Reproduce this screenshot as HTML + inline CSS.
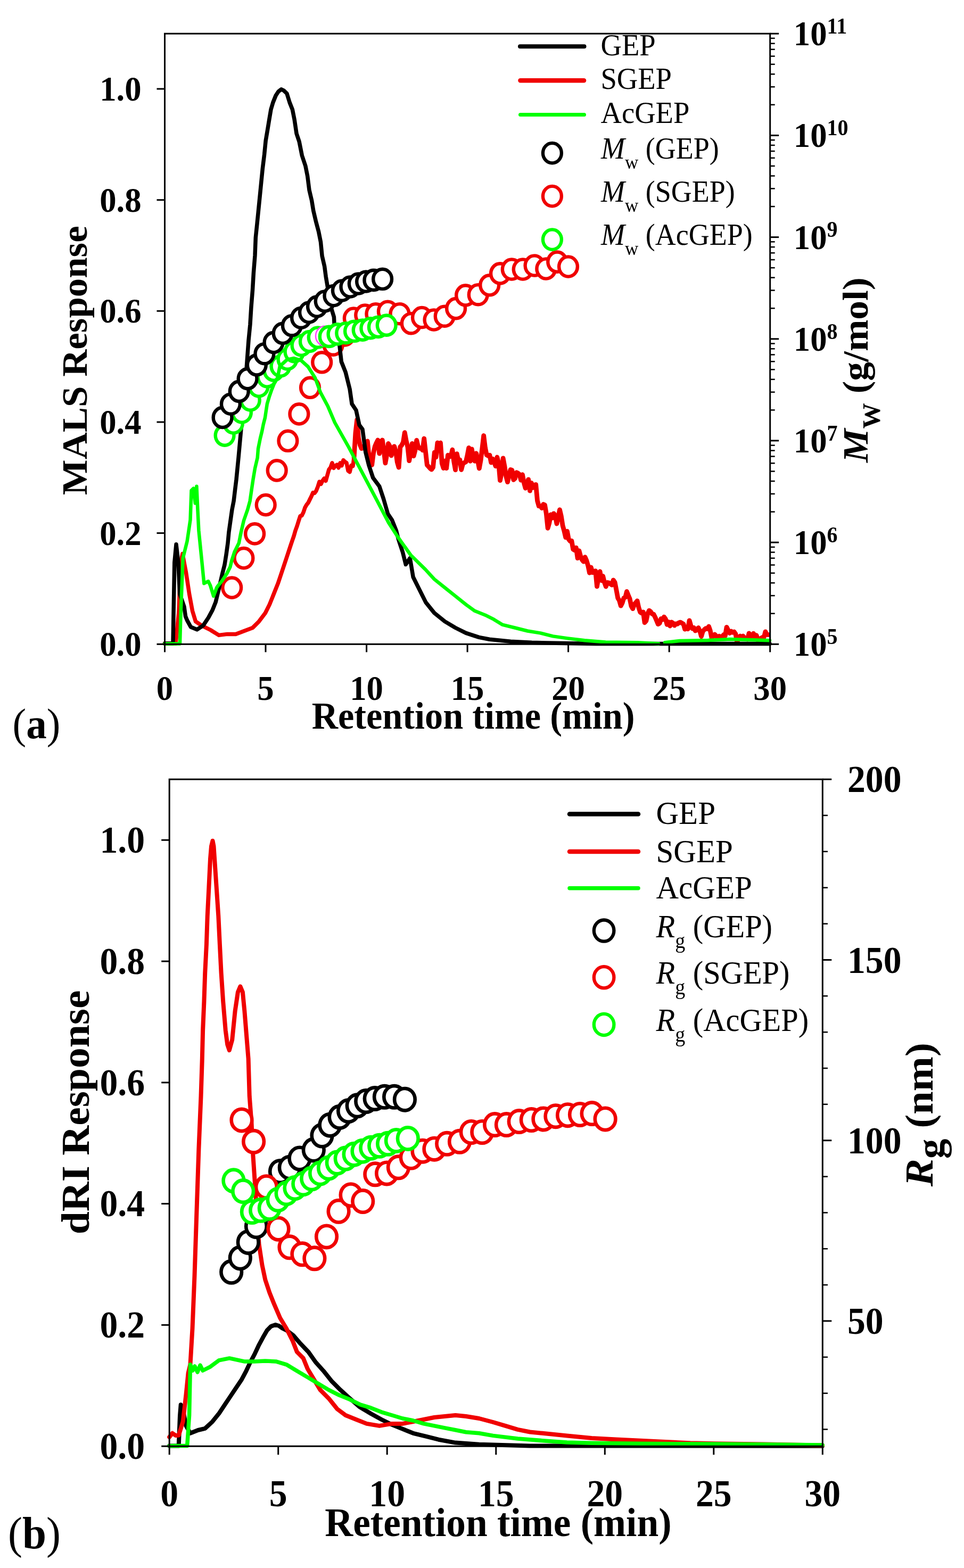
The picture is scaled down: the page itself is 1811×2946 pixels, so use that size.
<!DOCTYPE html>
<html><head><meta charset="utf-8"><title>GEP SEC-MALS</title>
<style>html,body{margin:0;padding:0;background:#fff;}svg{display:block;}</style>
</head><body>
<svg width="1811" height="2946" viewBox="0 0 1811 2946" font-family='"Liberation Serif", serif'>
<rect width="1811" height="2946" fill="#fff"/>
<polyline points="309.5,1209 330,1209 336,1150 339,1060 342.9,1040.6 349.6,1076.3 355.6,1116 361.5,1147.8 367.5,1167.6 379.4,1175.6 395.2,1183.5 411.1,1193.4 427,1191.4 442.9,1191.4 458.7,1185.5 474.6,1179.5 486.5,1167.6 498.4,1151.7 506.3,1135.9 514.3,1116 522.2,1096.2 530.2,1072.4 538.1,1048.6 546,1024.8 546,1024.8 549,1015.9 552,1007.3 555,996.7 558,988.5 561,978.9 564,969.6 567,968.6 570,962.6 573,953.6 576,948.4 579,944.7 582,938.5 585,932.5 588,925.6 591,926.4 594,922.2 597,914.7 600,905 603,909.4 606,903.2 609,899 612,903.5 615,892.7 618,882 621,878.3 624,869.8 627,879.4 630,875.1 633,873.1 636,878.9 639,869.9 642,874.7 645,864.6 648,867.5 651,869.6 654,884.5 657,886.8 660,874.6 663,875.6 665.1,859.6" fill="none" stroke="#f00000" stroke-width="7.5" stroke-linejoin="round" stroke-linecap="round"/>
<polyline points="665.1,859.6 667.9,813.5 670.7,788.7 673.5,823 676.3,835.9 679.1,842.6 681.9,839.2 684.7,842.7 687.5,837.5 690.3,828.8 693.1,857 695.9,867.6 698.7,873.5 701.5,851.5 704.3,839 707.1,832.2 709.9,826.8 712.7,852.1 715.5,831.6 718.3,826.8 721.1,846.7 723.9,870 726.7,854.2 729.5,833.4 732.3,838.4 735.1,856 737.9,847.8 740.7,838.6 743.5,847.9 746.3,868.3 749.1,878.1 751.9,839.4 754.7,836.4 757.5,830.6 760.3,812.7 763.1,828.1 765.9,839.8 768.7,865.7 771.5,850.5 774.3,833.3 777.1,856.9 779.9,846.1 782.7,827.2 785.5,838.9 788.3,842.3 791.1,841.8 793.9,845.8 796.7,824 799.5,848.8 802.3,873.5 805.1,876.7 807.9,879.8 810.7,882.2 813.5,878.3 816.3,849.8 819.1,858.8 821.9,832 824.7,835.6 827.5,832 830.3,870.4 833.1,879.5 835.9,865.9 838.7,879.8 841.5,855.1 844.3,858.2 847.1,856.9 849.9,845 852.7,867 855.5,882.8 858.3,852.7 861.1,865.4 863.9,863.9 866.7,882.5 869.5,871.5 872.3,869.3 875.1,867.9 877.9,856.1 880.7,841.3 883.5,866.3 886.3,843.9 889.1,859.3 891.9,866.3 894.7,851.7 897.5,865.2 900.3,880.1 903.1,864.8 905.9,842.3 908.7,818.5 911.5,841.2 914.3,854.8 917.1,856.3 919.9,855.1 922.7,869.2 925.5,862.2 928.3,868.3 931.1,875.8 933.9,859 936.7,870.2 939.5,902.6 942.3,888.6 945.1,860.8 947.9,875.7 950.7,894.6 953.5,905.7 956.3,893.4 959.1,882.4 961.9,883.4 964.7,901.4 967.5,899 970.3,887.7 973.1,889 975.9,891.4 978.7,902.1 981.5,891.7 984.3,906.9 987.1,917.2 989.9,910.9 992.7,900.8 995.5,922.1 998.3,907.3 1001.1,916.4 1003.9,911.2 1006.7,910.4 1009.5,940.7 1012.3,950.7 1015.1,950.9 1017.9,954.6 1020.7,947.5 1023.5,948.7 1026.3,965.1 1029.1,992.3 1031.9,982.6 1034.7,966.8 1037.5,973.3 1040.3,964.8 1043.1,969 1045.9,984 1048.7,970.6 1051.5,957.7 1054.3,969.7 1057.1,987.5 1059.9,997.5 1062.7,1009.7 1065.5,998.1 1068.3,1013.3 1071.1,1016.7 1073.9,1016.2 1076.7,1032.1 1079.5,1033.8 1082.3,1029.1 1085.1,1048.7 1087.9,1034.7 1090.7,1045.2 1093.5,1051.7 1096.3,1055.2 1099.1,1046.6 1101.9,1053.2 1104.7,1062.7 1107.5,1076.3 1110.3,1066 1113.1,1075.7 1115.9,1073.5 1118.7,1072.7 1121.5,1101.8 1124.3,1084.7 1127.1,1073.7 1129.9,1090.8 1132.7,1082.5 1135.5,1094.3 1138.3,1102 1141.1,1094.4 1143.9,1095.1 1146.7,1097.2 1149.5,1099.1 1152.3,1089.9 1155.1,1094.1 1157.9,1108.5 1160.7,1123.5 1163.5,1128.4 1166.3,1138.2 1169.1,1132.7 1171.9,1123.5 1174.7,1122.3 1177.5,1111.3 1180.3,1118.4 1183.1,1125 1185.9,1138.7 1188.7,1143.7 1191.5,1135.7 1194.3,1132.5 1197.1,1128.9 1199.9,1141.6 1202.7,1150.2 1205.5,1152 1208.3,1149.8 1211.1,1169.8 1213.9,1166.4 1216.7,1153 1219.5,1147.1 1222.3,1149.1 1225.1,1153.4 1227.9,1154.1 1230.7,1159.5 1233.5,1165.9 1236.3,1172.7 1239.1,1171 1241.9,1162.5 1244.7,1164 1247.5,1159.1 1250.3,1162.8 1253.1,1173.4 1255.9,1168.5 1258.7,1176.1 1261.5,1168.8 1264.3,1170.7 1267.1,1175.2 1269.9,1171.9 1272.7,1172.3 1275.5,1169.9 1278.3,1169.1 1281.1,1170.7 1283.9,1172.4 1286.7,1182.2 1289.5,1179.2 1292.3,1181.8 1295.1,1165.8 1297.9,1175.5 1300.7,1181 1303.5,1179.3 1306.3,1185.1 1309.1,1183.6 1311.9,1179.5 1314.7,1185.4 1317.5,1195.7 1320.3,1186.3 1323.1,1183 1325.9,1180.7 1328.7,1181.5 1331.5,1177 1334.3,1185 1337.1,1199 1339.9,1195 1342.7,1191.9 1345.5,1195.2 1348.3,1198.5 1351.1,1195.1 1353.9,1200.1 1356.7,1196 1359.5,1192.6 1362.3,1194.7 1365.1,1178.3 1367.9,1183.9 1370.7,1189.5 1373.5,1186 1376.3,1188.2 1379.1,1187 1381.9,1191 1384.7,1206.1 1387.5,1199.1 1390.3,1195 1393.1,1199.5 1395.9,1195 1398.7,1198.3 1401.5,1198.8 1404.3,1201 1407.1,1189.8 1409.9,1196.5 1412.7,1194.5 1415.5,1190.1 1418.3,1197.6 1421.1,1193.7 1423.9,1202.8 1426.7,1200.6 1429.5,1199.3 1432.3,1197.5 1435.1,1197.5 1437.9,1186.8 1440.7,1192.4 1443.5,1192.5" fill="none" stroke="#f00000" stroke-width="8.8" stroke-linejoin="round" stroke-linecap="round"/>
<ellipse cx="435.7" cy="1104.1" rx="17.4" ry="18.6" fill="#fff" stroke="#f00000" stroke-width="6.4"/>
<ellipse cx="457.9" cy="1048.6" rx="17.4" ry="18.6" fill="#fff" stroke="#f00000" stroke-width="6.4"/>
<ellipse cx="478.6" cy="1002.9" rx="17.4" ry="18.6" fill="#fff" stroke="#f00000" stroke-width="6.4"/>
<ellipse cx="499.2" cy="948.6" rx="17.4" ry="18.6" fill="#fff" stroke="#f00000" stroke-width="6.4"/>
<ellipse cx="520.2" cy="883.9" rx="17.4" ry="18.6" fill="#fff" stroke="#f00000" stroke-width="6.4"/>
<ellipse cx="540.9" cy="828.3" rx="17.4" ry="18.6" fill="#fff" stroke="#f00000" stroke-width="6.4"/>
<ellipse cx="561.9" cy="777.9" rx="17.4" ry="18.6" fill="#fff" stroke="#f00000" stroke-width="6.4"/>
<ellipse cx="582.5" cy="728.3" rx="17.4" ry="18.6" fill="#fff" stroke="#f00000" stroke-width="6.4"/>
<ellipse cx="604.7" cy="680.8" rx="17.4" ry="18.6" fill="#fff" stroke="#f00000" stroke-width="6.4"/>
<ellipse cx="626.1" cy="648.2" rx="17.4" ry="18.6" fill="#fff" stroke="#f00000" stroke-width="6.4"/>
<ellipse cx="647.5" cy="630" rx="17.4" ry="18.6" fill="#fff" stroke="#f00000" stroke-width="6.4"/>
<ellipse cx="664.3" cy="598" rx="17.4" ry="18.6" fill="#fff" stroke="#f00000" stroke-width="6.4"/>
<ellipse cx="685.7" cy="592" rx="17.4" ry="18.6" fill="#fff" stroke="#f00000" stroke-width="6.4"/>
<ellipse cx="705.9" cy="589.7" rx="17.4" ry="18.6" fill="#fff" stroke="#f00000" stroke-width="6.4"/>
<ellipse cx="728.4" cy="585.2" rx="17.4" ry="18.6" fill="#fff" stroke="#f00000" stroke-width="6.4"/>
<ellipse cx="750.9" cy="589.7" rx="17.4" ry="18.6" fill="#fff" stroke="#f00000" stroke-width="6.4"/>
<ellipse cx="772.3" cy="607.7" rx="17.4" ry="18.6" fill="#fff" stroke="#f00000" stroke-width="6.4"/>
<ellipse cx="792.5" cy="596.5" rx="17.4" ry="18.6" fill="#fff" stroke="#f00000" stroke-width="6.4"/>
<ellipse cx="815" cy="601" rx="17.4" ry="18.6" fill="#fff" stroke="#f00000" stroke-width="6.4"/>
<ellipse cx="835.2" cy="594.2" rx="17.4" ry="18.6" fill="#fff" stroke="#f00000" stroke-width="6.4"/>
<ellipse cx="856.6" cy="579.6" rx="17.4" ry="18.6" fill="#fff" stroke="#f00000" stroke-width="6.4"/>
<ellipse cx="874.6" cy="554.9" rx="17.4" ry="18.6" fill="#fff" stroke="#f00000" stroke-width="6.4"/>
<ellipse cx="898.2" cy="553.7" rx="17.4" ry="18.6" fill="#fff" stroke="#f00000" stroke-width="6.4"/>
<ellipse cx="919.7" cy="535.8" rx="17.4" ry="18.6" fill="#fff" stroke="#f00000" stroke-width="6.4"/>
<ellipse cx="939.5" cy="513.9" rx="17.4" ry="18.6" fill="#fff" stroke="#f00000" stroke-width="6.4"/>
<ellipse cx="961.3" cy="506" rx="17.4" ry="18.6" fill="#fff" stroke="#f00000" stroke-width="6.4"/>
<ellipse cx="982.2" cy="506" rx="17.4" ry="18.6" fill="#fff" stroke="#f00000" stroke-width="6.4"/>
<ellipse cx="1004" cy="499" rx="17.4" ry="18.6" fill="#fff" stroke="#f00000" stroke-width="6.4"/>
<ellipse cx="1025.8" cy="505" rx="17.4" ry="18.6" fill="#fff" stroke="#f00000" stroke-width="6.4"/>
<ellipse cx="1046.7" cy="492.1" rx="17.4" ry="18.6" fill="#fff" stroke="#f00000" stroke-width="6.4"/>
<ellipse cx="1067.5" cy="501" rx="17.4" ry="18.6" fill="#fff" stroke="#f00000" stroke-width="6.4"/>
<polyline points="309.5,1209 325,1209 327.8,1056.5 331,1022.8 334.9,1056.5 337.7,1116 346,1140 348.5,1158 351.5,1165.4 358.4,1178 370.1,1182.9 381.8,1175.1 391.5,1160.5 399.3,1145.9 405.2,1131.2 411,1106.8 417.9,1077.2 422,1061 425.2,1040.7 428,1020.3 429.9,1000 435.9,957.6 439.1,941.3 441.5,921 444,900.7 446,880.3 448,860 453.5,800 458,750 462.5,700 467,639.4 469.9,610 471.9,577.6 474.5,545 476.4,512.5 479,480 480.3,446.3 483,420.3 485.6,394.3 488.2,368.3 490.8,342.2 493.4,316.2 496.6,290.2 499.2,264.1 502.5,244.6 505.7,225.1 509,205.6 512.9,192.5 518.1,179.5 523,172 528.5,167.8 533,170 538.9,175.6 544.1,192.5 549.3,205.6 553.2,225.1 557.1,251.1 562.1,266 567.3,292.1 573.8,311.6 577.7,331.1 581,357.1 585.6,376.7 588.8,396.2 593.4,415.7 598.6,435.2 602.5,454.8 605.1,480.8 609.6,500.3 612.2,519.8 615.5,539.4 621.4,575.9 627.4,595.7 629.4,635.4 637.3,643.8 641.3,679.5 649.2,699.4 657.1,731.1 661.1,758.9 669,770.8 675,798.6 681,806.5 686.9,850.2 692.9,874 700.8,897.8 712.7,913.7 720.6,937.5 728.6,965.2 736.5,977.1 744.4,997 748.4,1012.9 756.3,1036.7 762.3,1060.5 770.2,1048.6 776.2,1084.3 788.1,1108.1 800,1131.9 815.9,1151.7 835.7,1167.6 855.6,1179.5 875.4,1189.4 899.8,1197.4 919.7,1201.3 959.4,1205.3 999,1207.3 1058.6,1208.5 1120,1209.5 1446,1209.5" fill="none" stroke="#000000" stroke-width="7.5" stroke-linejoin="round" stroke-linecap="round"/>
<ellipse cx="422.1" cy="818.1" rx="17.4" ry="18.6" fill="#fff" stroke="#00ff00" stroke-width="6.4"/>
<ellipse cx="438.5" cy="795" rx="17.4" ry="18.6" fill="#fff" stroke="#00ff00" stroke-width="6.4"/>
<ellipse cx="454.4" cy="775" rx="17.4" ry="18.6" fill="#fff" stroke="#00ff00" stroke-width="6.4"/>
<ellipse cx="470.3" cy="752" rx="17.4" ry="18.6" fill="#fff" stroke="#00ff00" stroke-width="6.4"/>
<ellipse cx="486.1" cy="726" rx="17.4" ry="18.6" fill="#fff" stroke="#00ff00" stroke-width="6.4"/>
<ellipse cx="502" cy="708" rx="17.4" ry="18.6" fill="#fff" stroke="#00ff00" stroke-width="6.4"/>
<ellipse cx="514" cy="696" rx="17.4" ry="18.6" fill="#fff" stroke="#00ff00" stroke-width="6.4"/>
<ellipse cx="527" cy="688" rx="17.4" ry="18.6" fill="#fff" stroke="#00ff00" stroke-width="6.4"/>
<ellipse cx="540" cy="675" rx="17.4" ry="18.6" fill="#fff" stroke="#00ff00" stroke-width="6.4"/>
<ellipse cx="553" cy="661" rx="17.4" ry="18.6" fill="#fff" stroke="#00ff00" stroke-width="6.4"/>
<ellipse cx="566" cy="649" rx="17.4" ry="18.6" fill="#fff" stroke="#00ff00" stroke-width="6.4"/>
<ellipse cx="581.4" cy="641.5" rx="17.4" ry="18.6" fill="#fff" stroke="#00ff00" stroke-width="6.4"/>
<ellipse cx="597.2" cy="634" rx="17.4" ry="18.6" fill="#fff" stroke="#00ff00" stroke-width="6.4"/>
<ellipse cx="610.4" cy="631.3" rx="17.4" ry="18.6" fill="#fff" stroke="#ff40ff" stroke-width="2.5"/>
<ellipse cx="618.2" cy="632.4" rx="17.4" ry="18.6" fill="#fff" stroke="#00ff00" stroke-width="6.4"/>
<ellipse cx="634" cy="627.9" rx="17.4" ry="18.6" fill="#fff" stroke="#00ff00" stroke-width="6.4"/>
<ellipse cx="649.7" cy="625.7" rx="17.4" ry="18.6" fill="#fff" stroke="#00ff00" stroke-width="6.4"/>
<ellipse cx="665.5" cy="622.3" rx="17.4" ry="18.6" fill="#fff" stroke="#00ff00" stroke-width="6.4"/>
<ellipse cx="681.2" cy="620.1" rx="17.4" ry="18.6" fill="#fff" stroke="#00ff00" stroke-width="6.4"/>
<ellipse cx="695.8" cy="616.7" rx="17.4" ry="18.6" fill="#fff" stroke="#00ff00" stroke-width="6.4"/>
<ellipse cx="710.4" cy="614.4" rx="17.4" ry="18.6" fill="#fff" stroke="#00ff00" stroke-width="6.4"/>
<ellipse cx="726.2" cy="611.1" rx="17.4" ry="18.6" fill="#fff" stroke="#00ff00" stroke-width="6.4"/>
<polyline points="309.5,1209.5 338,1209.5 339.7,1150 343.7,1048.6 351.6,1016.8 357.5,977.1 359.5,921.6 363.5,917.6 366.7,945.4 369.4,913.7 371.4,957.3 373.4,997 379.4,1056.5 383.3,1096.2 391.3,1092.2 395.2,1100.2 401.2,1120 407.1,1104.1 410,1100 417.1,1091.5 426.4,1077.2 432.5,1065 435.4,1052.8 440.7,1036.6 448.8,1020.3 452.8,1000 458,978 465.1,957.6 469.6,941.3 472.5,921 475.5,900.7 479,880 483.7,860 485,843 488.9,823.6 492.1,810.6 494.7,797.6 498,784.6 499.9,771.6 501.9,758.6 505.8,745.5 510.3,732.5 515.5,719.5 521.4,709.8 525.8,688 539,676 552.3,673 565.5,677 578.7,689 592,710 601.9,737 615.8,763 629,794 655,840 681,889 707,938 730,982 748.1,1010 771.7,1043 799.1,1069.9 815.9,1088.3 835.7,1104.1 855.6,1120 875.4,1135.9 891.9,1147.8 911.7,1155.7 927.6,1163.7 943.5,1173.6 967.3,1179.5 991.1,1185.5 1014.9,1189.4 1038.7,1195.4 1066.5,1199.4 1098.3,1203.3 1137.9,1206.5 1197.5,1207.3 1237.1,1209.3" fill="none" stroke="#00ff00" stroke-width="6.5" stroke-linejoin="round" stroke-linecap="round"/>
<polyline points="1249,1207.3 1276.8,1204 1330,1203 1372,1201 1446,1203.3" fill="none" stroke="#00ff00" stroke-width="6.5" stroke-linejoin="round" stroke-linecap="round"/>
<ellipse cx="418.1" cy="784.4" rx="17.4" ry="18.6" fill="#fff" stroke="#000000" stroke-width="6.4"/>
<ellipse cx="433.4" cy="759.2" rx="17.4" ry="18.6" fill="#fff" stroke="#000000" stroke-width="6.4"/>
<ellipse cx="449.2" cy="735.4" rx="17.4" ry="18.6" fill="#fff" stroke="#000000" stroke-width="6.4"/>
<ellipse cx="465.1" cy="711.6" rx="17.4" ry="18.6" fill="#fff" stroke="#000000" stroke-width="6.4"/>
<ellipse cx="482.3" cy="685.8" rx="17.4" ry="18.6" fill="#fff" stroke="#000000" stroke-width="6.4"/>
<ellipse cx="496.9" cy="664.7" rx="17.4" ry="18.6" fill="#fff" stroke="#000000" stroke-width="6.4"/>
<ellipse cx="514" cy="643.5" rx="17.4" ry="18.6" fill="#fff" stroke="#000000" stroke-width="6.4"/>
<ellipse cx="531.2" cy="626.3" rx="17.4" ry="18.6" fill="#fff" stroke="#000000" stroke-width="6.4"/>
<ellipse cx="548.4" cy="611.7" rx="17.4" ry="18.6" fill="#fff" stroke="#000000" stroke-width="6.4"/>
<ellipse cx="565.6" cy="597.2" rx="17.4" ry="18.6" fill="#fff" stroke="#000000" stroke-width="6.4"/>
<ellipse cx="580.5" cy="587" rx="17.4" ry="18.6" fill="#fff" stroke="#000000" stroke-width="6.4"/>
<ellipse cx="595.5" cy="576" rx="17.4" ry="18.6" fill="#fff" stroke="#000000" stroke-width="6.4"/>
<ellipse cx="610.2" cy="566" rx="17.4" ry="18.6" fill="#fff" stroke="#000000" stroke-width="6.4"/>
<ellipse cx="626.9" cy="555.5" rx="17.4" ry="18.6" fill="#fff" stroke="#000000" stroke-width="6.4"/>
<ellipse cx="642.4" cy="546" rx="17.4" ry="18.6" fill="#fff" stroke="#000000" stroke-width="6.4"/>
<ellipse cx="657.9" cy="539" rx="17.4" ry="18.6" fill="#fff" stroke="#000000" stroke-width="6.4"/>
<ellipse cx="673.3" cy="533" rx="17.4" ry="18.6" fill="#fff" stroke="#000000" stroke-width="6.4"/>
<ellipse cx="687.6" cy="529" rx="17.4" ry="18.6" fill="#fff" stroke="#000000" stroke-width="6.4"/>
<ellipse cx="701.9" cy="526.4" rx="17.4" ry="18.6" fill="#fff" stroke="#000000" stroke-width="6.4"/>
<ellipse cx="718.6" cy="524.3" rx="17.4" ry="18.6" fill="#fff" stroke="#000000" stroke-width="6.4"/>
<rect x="309.5" y="63.2" width="1137.2" height="1147.1" fill="none" stroke="#000" stroke-width="3"/>
<line x1="294.5" y1="1210.3" x2="309.5" y2="1210.3" stroke="#000" stroke-width="3"/>
<text transform="translate(265.5,1232.3) scale(1,1.05)" font-size="62.7" font-weight="bold" text-anchor="end" fill="#000">0.0</text>
<line x1="294.5" y1="1001.6" x2="309.5" y2="1001.6" stroke="#000" stroke-width="3"/>
<text transform="translate(265.5,1023.6) scale(1,1.05)" font-size="62.7" font-weight="bold" text-anchor="end" fill="#000">0.2</text>
<line x1="294.5" y1="793" x2="309.5" y2="793" stroke="#000" stroke-width="3"/>
<text transform="translate(265.5,815) scale(1,1.05)" font-size="62.7" font-weight="bold" text-anchor="end" fill="#000">0.4</text>
<line x1="294.5" y1="584.3" x2="309.5" y2="584.3" stroke="#000" stroke-width="3"/>
<text transform="translate(265.5,606.3) scale(1,1.05)" font-size="62.7" font-weight="bold" text-anchor="end" fill="#000">0.6</text>
<line x1="294.5" y1="375.7" x2="309.5" y2="375.7" stroke="#000" stroke-width="3"/>
<text transform="translate(265.5,397.7) scale(1,1.05)" font-size="62.7" font-weight="bold" text-anchor="end" fill="#000">0.8</text>
<line x1="294.5" y1="167" x2="309.5" y2="167" stroke="#000" stroke-width="3"/>
<text transform="translate(265.5,189) scale(1,1.05)" font-size="62.7" font-weight="bold" text-anchor="end" fill="#000">1.0</text>
<line x1="309.5" y1="1210.3" x2="309.5" y2="1225.3" stroke="#000" stroke-width="3"/>
<text transform="translate(309.5,1314.7) scale(1,1.05)" font-size="62.7" font-weight="bold" text-anchor="middle" fill="#000">0</text>
<line x1="499" y1="1210.3" x2="499" y2="1225.3" stroke="#000" stroke-width="3"/>
<text transform="translate(499,1314.7) scale(1,1.05)" font-size="62.7" font-weight="bold" text-anchor="middle" fill="#000">5</text>
<line x1="688.6" y1="1210.3" x2="688.6" y2="1225.3" stroke="#000" stroke-width="3"/>
<text transform="translate(688.6,1314.7) scale(1,1.05)" font-size="62.7" font-weight="bold" text-anchor="middle" fill="#000">10</text>
<line x1="878.1" y1="1210.3" x2="878.1" y2="1225.3" stroke="#000" stroke-width="3"/>
<text transform="translate(878.1,1314.7) scale(1,1.05)" font-size="62.7" font-weight="bold" text-anchor="middle" fill="#000">15</text>
<line x1="1067.6" y1="1210.3" x2="1067.6" y2="1225.3" stroke="#000" stroke-width="3"/>
<text transform="translate(1067.6,1314.7) scale(1,1.05)" font-size="62.7" font-weight="bold" text-anchor="middle" fill="#000">20</text>
<line x1="1257.2" y1="1210.3" x2="1257.2" y2="1225.3" stroke="#000" stroke-width="3"/>
<text transform="translate(1257.2,1314.7) scale(1,1.05)" font-size="62.7" font-weight="bold" text-anchor="middle" fill="#000">25</text>
<line x1="1446.7" y1="1210.3" x2="1446.7" y2="1225.3" stroke="#000" stroke-width="3"/>
<text transform="translate(1446.7,1314.7) scale(1,1.05)" font-size="62.7" font-weight="bold" text-anchor="middle" fill="#000">30</text>
<line x1="1446.7" y1="1210.3" x2="1463.2" y2="1210.3" stroke="#000" stroke-width="3"/>
<line x1="1446.7" y1="1152.7" x2="1455.7" y2="1152.7" stroke="#000" stroke-width="2.5"/>
<line x1="1446.7" y1="1119.1" x2="1455.7" y2="1119.1" stroke="#000" stroke-width="2.5"/>
<line x1="1446.7" y1="1095.2" x2="1455.7" y2="1095.2" stroke="#000" stroke-width="2.5"/>
<line x1="1446.7" y1="1076.7" x2="1455.7" y2="1076.7" stroke="#000" stroke-width="2.5"/>
<line x1="1446.7" y1="1061.5" x2="1455.7" y2="1061.5" stroke="#000" stroke-width="2.5"/>
<line x1="1446.7" y1="1048.7" x2="1455.7" y2="1048.7" stroke="#000" stroke-width="2.5"/>
<line x1="1446.7" y1="1037.6" x2="1455.7" y2="1037.6" stroke="#000" stroke-width="2.5"/>
<line x1="1446.7" y1="1027.9" x2="1455.7" y2="1027.9" stroke="#000" stroke-width="2.5"/>
<line x1="1446.7" y1="1019.1" x2="1463.2" y2="1019.1" stroke="#000" stroke-width="3"/>
<line x1="1446.7" y1="961.6" x2="1455.7" y2="961.6" stroke="#000" stroke-width="2.5"/>
<line x1="1446.7" y1="927.9" x2="1455.7" y2="927.9" stroke="#000" stroke-width="2.5"/>
<line x1="1446.7" y1="904" x2="1455.7" y2="904" stroke="#000" stroke-width="2.5"/>
<line x1="1446.7" y1="885.5" x2="1455.7" y2="885.5" stroke="#000" stroke-width="2.5"/>
<line x1="1446.7" y1="870.3" x2="1455.7" y2="870.3" stroke="#000" stroke-width="2.5"/>
<line x1="1446.7" y1="857.5" x2="1455.7" y2="857.5" stroke="#000" stroke-width="2.5"/>
<line x1="1446.7" y1="846.5" x2="1455.7" y2="846.5" stroke="#000" stroke-width="2.5"/>
<line x1="1446.7" y1="836.7" x2="1455.7" y2="836.7" stroke="#000" stroke-width="2.5"/>
<line x1="1446.7" y1="827.9" x2="1463.2" y2="827.9" stroke="#000" stroke-width="3"/>
<line x1="1446.7" y1="770.4" x2="1455.7" y2="770.4" stroke="#000" stroke-width="2.5"/>
<line x1="1446.7" y1="736.7" x2="1455.7" y2="736.7" stroke="#000" stroke-width="2.5"/>
<line x1="1446.7" y1="712.8" x2="1455.7" y2="712.8" stroke="#000" stroke-width="2.5"/>
<line x1="1446.7" y1="694.3" x2="1455.7" y2="694.3" stroke="#000" stroke-width="2.5"/>
<line x1="1446.7" y1="679.2" x2="1455.7" y2="679.2" stroke="#000" stroke-width="2.5"/>
<line x1="1446.7" y1="666.4" x2="1455.7" y2="666.4" stroke="#000" stroke-width="2.5"/>
<line x1="1446.7" y1="655.3" x2="1455.7" y2="655.3" stroke="#000" stroke-width="2.5"/>
<line x1="1446.7" y1="645.5" x2="1455.7" y2="645.5" stroke="#000" stroke-width="2.5"/>
<line x1="1446.7" y1="636.8" x2="1463.2" y2="636.8" stroke="#000" stroke-width="3"/>
<line x1="1446.7" y1="579.2" x2="1455.7" y2="579.2" stroke="#000" stroke-width="2.5"/>
<line x1="1446.7" y1="545.5" x2="1455.7" y2="545.5" stroke="#000" stroke-width="2.5"/>
<line x1="1446.7" y1="521.6" x2="1455.7" y2="521.6" stroke="#000" stroke-width="2.5"/>
<line x1="1446.7" y1="503.1" x2="1455.7" y2="503.1" stroke="#000" stroke-width="2.5"/>
<line x1="1446.7" y1="488" x2="1455.7" y2="488" stroke="#000" stroke-width="2.5"/>
<line x1="1446.7" y1="475.2" x2="1455.7" y2="475.2" stroke="#000" stroke-width="2.5"/>
<line x1="1446.7" y1="464.1" x2="1455.7" y2="464.1" stroke="#000" stroke-width="2.5"/>
<line x1="1446.7" y1="454.3" x2="1455.7" y2="454.3" stroke="#000" stroke-width="2.5"/>
<line x1="1446.7" y1="445.6" x2="1463.2" y2="445.6" stroke="#000" stroke-width="3"/>
<line x1="1446.7" y1="388" x2="1455.7" y2="388" stroke="#000" stroke-width="2.5"/>
<line x1="1446.7" y1="354.3" x2="1455.7" y2="354.3" stroke="#000" stroke-width="2.5"/>
<line x1="1446.7" y1="330.5" x2="1455.7" y2="330.5" stroke="#000" stroke-width="2.5"/>
<line x1="1446.7" y1="311.9" x2="1455.7" y2="311.9" stroke="#000" stroke-width="2.5"/>
<line x1="1446.7" y1="296.8" x2="1455.7" y2="296.8" stroke="#000" stroke-width="2.5"/>
<line x1="1446.7" y1="284" x2="1455.7" y2="284" stroke="#000" stroke-width="2.5"/>
<line x1="1446.7" y1="272.9" x2="1455.7" y2="272.9" stroke="#000" stroke-width="2.5"/>
<line x1="1446.7" y1="263.1" x2="1455.7" y2="263.1" stroke="#000" stroke-width="2.5"/>
<line x1="1446.7" y1="254.4" x2="1463.2" y2="254.4" stroke="#000" stroke-width="3"/>
<line x1="1446.7" y1="196.8" x2="1455.7" y2="196.8" stroke="#000" stroke-width="2.5"/>
<line x1="1446.7" y1="163.2" x2="1455.7" y2="163.2" stroke="#000" stroke-width="2.5"/>
<line x1="1446.7" y1="139.3" x2="1455.7" y2="139.3" stroke="#000" stroke-width="2.5"/>
<line x1="1446.7" y1="120.8" x2="1455.7" y2="120.8" stroke="#000" stroke-width="2.5"/>
<line x1="1446.7" y1="105.6" x2="1455.7" y2="105.6" stroke="#000" stroke-width="2.5"/>
<line x1="1446.7" y1="92.8" x2="1455.7" y2="92.8" stroke="#000" stroke-width="2.5"/>
<line x1="1446.7" y1="81.7" x2="1455.7" y2="81.7" stroke="#000" stroke-width="2.5"/>
<line x1="1446.7" y1="71.9" x2="1455.7" y2="71.9" stroke="#000" stroke-width="2.5"/>
<line x1="1446.7" y1="63.2" x2="1463.2" y2="63.2" stroke="#000" stroke-width="3"/>
<text transform="translate(1490.8,1232.3) scale(1,1.05)" font-size="62.7" font-weight="bold">10<tspan font-size="40" dy="-21.2">5</tspan></text>
<text transform="translate(1490.8,1041.1) scale(1,1.05)" font-size="62.7" font-weight="bold">10<tspan font-size="40" dy="-21.2">6</tspan></text>
<text transform="translate(1490.8,849.9) scale(1,1.05)" font-size="62.7" font-weight="bold">10<tspan font-size="40" dy="-21.2">7</tspan></text>
<text transform="translate(1490.8,658.8) scale(1,1.05)" font-size="62.7" font-weight="bold">10<tspan font-size="40" dy="-21.2">8</tspan></text>
<text transform="translate(1490.8,467.6) scale(1,1.05)" font-size="62.7" font-weight="bold">10<tspan font-size="40" dy="-21.2">9</tspan></text>
<text transform="translate(1490.8,276.4) scale(1,1.05)" font-size="62.7" font-weight="bold">10<tspan font-size="40" dy="-21.2">10</tspan></text>
<text transform="translate(1490.8,85.2) scale(1,1.05)" font-size="62.7" font-weight="bold">10<tspan font-size="40" dy="-21.2">11</tspan></text>
<text transform="translate(163.1,677.3) scale(1,1.05) rotate(-90)" font-size="67.5" font-weight="bold" text-anchor="middle" fill="#000">MALS Response</text>
<text transform="translate(1630.4,695.2) scale(1,1.05) rotate(-90)" font-size="68" font-weight="bold" text-anchor="middle"><tspan font-style="italic">M</tspan><tspan font-size="46" dy="22.3">W</tspan><tspan dy="-22.3"> (g/mol)</tspan></text>
<text transform="translate(889.1,1368.7) scale(1,1.05)" font-size="68.3" font-weight="bold" text-anchor="middle" fill="#000">Retention time (min)</text>
<text transform="translate(23.5,1387) scale(1,1.04)" font-size="77"><tspan>(</tspan><tspan font-weight="bold">a</tspan><tspan>)</tspan></text>
<line x1="977" y1="87.3" x2="1097.5" y2="87.3" stroke="#000000" stroke-width="8" stroke-linecap="round"/>
<line x1="977.5" y1="151.3" x2="1097" y2="151.3" stroke="#f00000" stroke-width="8.5" stroke-linecap="round"/>
<line x1="977.5" y1="215.5" x2="1097.5" y2="215.5" stroke="#00ff00" stroke-width="7" stroke-linecap="round"/>
<text transform="translate(1128.5,103.7) scale(1,1.05)" font-size="54.6" font-weight="normal" text-anchor="start" fill="#000">GEP</text>
<text transform="translate(1128.5,167.3) scale(1,1.05)" font-size="54.6" font-weight="normal" text-anchor="start" fill="#000">SGEP</text>
<text transform="translate(1128.5,231.1) scale(1,1.05)" font-size="54.6" font-weight="normal" text-anchor="start" fill="#000">AcGEP</text>
<ellipse cx="1037.4" cy="287.6" rx="17.5" ry="18.7" fill="#fff" stroke="#000000" stroke-width="6.3"/>
<text transform="translate(1129,297.8) scale(1,1.05)" font-size="54"><tspan font-style="italic">M</tspan><tspan font-size="35" dy="17.8">w</tspan><tspan dy="-17.8"> (GEP)</tspan></text>
<ellipse cx="1037.4" cy="368.6" rx="17.5" ry="18.7" fill="#fff" stroke="#f00000" stroke-width="6.3"/>
<text transform="translate(1129,378.8) scale(1,1.05)" font-size="54"><tspan font-style="italic">M</tspan><tspan font-size="35" dy="17.8">w</tspan><tspan dy="-17.8"> (SGEP)</tspan></text>
<ellipse cx="1037.4" cy="450.1" rx="17.5" ry="18.7" fill="#fff" stroke="#00ff00" stroke-width="6.3"/>
<text transform="translate(1129,460.3) scale(1,1.05)" font-size="54"><tspan font-style="italic">M</tspan><tspan font-size="35" dy="17.8">w</tspan><tspan dy="-17.8"> (AcGEP)</tspan></text>
<polyline points="318.2,2716.5 335.7,2716.5 338,2660 339.7,2639.2 343,2645 349.6,2678.9 357.5,2692.8 372,2687 385.3,2683.8 399,2671.1 411.7,2655.2 422.3,2639.3 432.9,2623.4 443.5,2607.6 454.1,2591.7 462.5,2575.8 470,2559.9 478.4,2544.1 485.8,2528.2 494.3,2512.3 501.7,2499.6 509,2492 517.6,2489 524,2491 530.3,2495.4 538.7,2499.6 551,2509 564.8,2524.8 579.8,2540.6 593.3,2559.7 607.6,2575.6 623.5,2595.4 639.4,2611.3 655.2,2625.6 675.1,2643 696.8,2656 716.7,2667 736.5,2676.9 756.3,2684.8 776.2,2692.8 800,2698.7 823.8,2704.7 855.6,2710.6 900,2713.8 995.7,2716.4 1545,2716.8" fill="none" stroke="#000000" stroke-width="8" stroke-linejoin="round" stroke-linecap="round"/>
<polyline points="318.2,2700 323.8,2692.8 330,2697 335.7,2696.7 343.7,2671 349.6,2619.4 353.6,2579.7 357.5,2563.5 361.5,2496 365.5,2396.8 369.4,2277.8 373.4,2158.7 377.5,2060 379.8,1989.3 381.1,1935.7 383.4,1882 385.2,1828.3 387.9,1774.7 389.7,1721 392.4,1667.3 395,1613.7 397,1590 399.5,1579.7 401.5,1590 403.1,1613.7 406.7,1667.3 410.3,1721 412.9,1774.7 415.6,1828.3 419.2,1882 423.7,1935.7 427.2,1962.5 430.8,1973.2 436.2,1953.6 441.6,1899.9 446.9,1864.1 451.4,1853.4 455.9,1864.1 459.4,1899.9 463,1944.6 466.6,1989.3 468.7,2059.5 472.6,2111.1 474.6,2158.7 478.6,2218.3 482.5,2277.8 486.5,2337.3 492.5,2377 498.4,2404.8 506.3,2428.6 514.3,2448.4 526.2,2476.2 538.1,2496 550,2519.8 557.9,2540 569.8,2551.9 577.8,2571.7 589.7,2591.6 601.6,2611.4 617.5,2627.3 633.3,2647.1 649.2,2659 669,2667 688.9,2674.9 712.7,2678.9 736.5,2674.9 756.3,2674.9 776.2,2671 796,2667 815.9,2663 835.7,2661 855.6,2659 875.4,2661 900,2665 926.3,2672 949.4,2678.9 972.6,2685.8 995.7,2690.5 1018.9,2692.8 1065.2,2697.4 1111.5,2702 1157.8,2704.4 1204.1,2706.7 1250.4,2709 1296.7,2711.3 1343,2712.2 1435.6,2713.6 1545,2715.5" fill="none" stroke="#f00000" stroke-width="8" stroke-linejoin="round" stroke-linecap="round"/>
<polyline points="318.2,2716.6 351.6,2716.6 355.6,2659 357.5,2563.8 362,2575 366,2567 371,2578 376,2565 381,2575 395.2,2567.8 411.1,2555.9 431,2551.9 458.7,2557.9 478,2558 498,2557 518.3,2557.9 538.1,2563.8 557.9,2575.7 577.8,2587.6 597.6,2599.5 617.5,2611.4 637.3,2621.3 657.1,2629.3 677,2639.2 696.8,2645.2 716.7,2653.1 736.5,2659 756.3,2665 776.2,2669 796,2674.9 815.9,2678.9 835.7,2682.9 855.6,2686.8 875.4,2690.8 900,2692.8 926.3,2697.4 972.6,2703 1018.9,2706.7 1065.2,2709.9 1111.5,2711.3 1204.1,2712.2 1343,2713.1 1545,2715" fill="none" stroke="#00ff00" stroke-width="7.5" stroke-linejoin="round" stroke-linecap="round"/>
<ellipse cx="434.7" cy="2389.8" rx="19.3" ry="20.7" fill="#fff" stroke="#000000" stroke-width="6.6"/>
<ellipse cx="451.3" cy="2363.4" rx="19.3" ry="20.7" fill="#fff" stroke="#000000" stroke-width="6.6"/>
<ellipse cx="466.3" cy="2333.9" rx="19.3" ry="20.7" fill="#fff" stroke="#000000" stroke-width="6.6"/>
<ellipse cx="481.5" cy="2304" rx="19.3" ry="20.7" fill="#fff" stroke="#000000" stroke-width="6.6"/>
<ellipse cx="497" cy="2272" rx="19.3" ry="20.7" fill="#fff" stroke="#000000" stroke-width="6.6"/>
<ellipse cx="512" cy="2235" rx="19.3" ry="20.7" fill="#fff" stroke="#000000" stroke-width="6.6"/>
<ellipse cx="526.5" cy="2201" rx="19.3" ry="20.7" fill="#fff" stroke="#000000" stroke-width="6.6"/>
<ellipse cx="544.3" cy="2193.7" rx="19.3" ry="20.7" fill="#fff" stroke="#000000" stroke-width="6.6"/>
<ellipse cx="562.9" cy="2176.5" rx="19.3" ry="20.7" fill="#fff" stroke="#000000" stroke-width="6.6"/>
<ellipse cx="589.3" cy="2160.6" rx="19.3" ry="20.7" fill="#fff" stroke="#000000" stroke-width="6.6"/>
<ellipse cx="605" cy="2133.5" rx="19.3" ry="20.7" fill="#fff" stroke="#000000" stroke-width="6.6"/>
<ellipse cx="619.9" cy="2113.7" rx="19.3" ry="20.7" fill="#fff" stroke="#000000" stroke-width="6.6"/>
<ellipse cx="638.1" cy="2098.8" rx="19.3" ry="20.7" fill="#fff" stroke="#000000" stroke-width="6.6"/>
<ellipse cx="654.6" cy="2087.2" rx="19.3" ry="20.7" fill="#fff" stroke="#000000" stroke-width="6.6"/>
<ellipse cx="671.2" cy="2077.3" rx="19.3" ry="20.7" fill="#fff" stroke="#000000" stroke-width="6.6"/>
<ellipse cx="687.7" cy="2069" rx="19.3" ry="20.7" fill="#fff" stroke="#000000" stroke-width="6.6"/>
<ellipse cx="704.2" cy="2064.1" rx="19.3" ry="20.7" fill="#fff" stroke="#000000" stroke-width="6.6"/>
<ellipse cx="722.4" cy="2060.8" rx="19.3" ry="20.7" fill="#fff" stroke="#000000" stroke-width="6.6"/>
<ellipse cx="740.6" cy="2060.8" rx="19.3" ry="20.7" fill="#fff" stroke="#000000" stroke-width="6.6"/>
<ellipse cx="760.4" cy="2065.7" rx="19.3" ry="20.7" fill="#fff" stroke="#000000" stroke-width="6.6"/>
<ellipse cx="454" cy="2104.4" rx="19.3" ry="20.7" fill="#fff" stroke="#f00000" stroke-width="6.6"/>
<ellipse cx="476.6" cy="2144.8" rx="19.3" ry="20.7" fill="#fff" stroke="#f00000" stroke-width="6.6"/>
<ellipse cx="500.4" cy="2230.2" rx="19.3" ry="20.7" fill="#fff" stroke="#f00000" stroke-width="6.6"/>
<ellipse cx="523" cy="2308.7" rx="19.3" ry="20.7" fill="#fff" stroke="#f00000" stroke-width="6.6"/>
<ellipse cx="544" cy="2343.3" rx="19.3" ry="20.7" fill="#fff" stroke="#f00000" stroke-width="6.6"/>
<ellipse cx="567.9" cy="2356.3" rx="19.3" ry="20.7" fill="#fff" stroke="#f00000" stroke-width="6.6"/>
<ellipse cx="590.9" cy="2364.3" rx="19.3" ry="20.7" fill="#fff" stroke="#f00000" stroke-width="6.6"/>
<ellipse cx="613.5" cy="2323.4" rx="19.3" ry="20.7" fill="#fff" stroke="#f00000" stroke-width="6.6"/>
<ellipse cx="636.1" cy="2275.8" rx="19.3" ry="20.7" fill="#fff" stroke="#f00000" stroke-width="6.6"/>
<ellipse cx="659.1" cy="2245.2" rx="19.3" ry="20.7" fill="#fff" stroke="#f00000" stroke-width="6.6"/>
<ellipse cx="681.7" cy="2257.1" rx="19.3" ry="20.7" fill="#fff" stroke="#f00000" stroke-width="6.6"/>
<ellipse cx="704.8" cy="2206.3" rx="19.3" ry="20.7" fill="#fff" stroke="#f00000" stroke-width="6.6"/>
<ellipse cx="726.6" cy="2204.4" rx="19.3" ry="20.7" fill="#fff" stroke="#f00000" stroke-width="6.6"/>
<ellipse cx="748.4" cy="2193.3" rx="19.3" ry="20.7" fill="#fff" stroke="#f00000" stroke-width="6.6"/>
<ellipse cx="772.2" cy="2174.6" rx="19.3" ry="20.7" fill="#fff" stroke="#f00000" stroke-width="6.6"/>
<ellipse cx="794" cy="2162.7" rx="19.3" ry="20.7" fill="#fff" stroke="#f00000" stroke-width="6.6"/>
<ellipse cx="815.9" cy="2158.7" rx="19.3" ry="20.7" fill="#fff" stroke="#f00000" stroke-width="6.6"/>
<ellipse cx="839.7" cy="2148.8" rx="19.3" ry="20.7" fill="#fff" stroke="#f00000" stroke-width="6.6"/>
<ellipse cx="863.5" cy="2144.8" rx="19.3" ry="20.7" fill="#fff" stroke="#f00000" stroke-width="6.6"/>
<ellipse cx="885.3" cy="2127" rx="19.3" ry="20.7" fill="#fff" stroke="#f00000" stroke-width="6.6"/>
<ellipse cx="905.8" cy="2127" rx="19.3" ry="20.7" fill="#fff" stroke="#f00000" stroke-width="6.6"/>
<ellipse cx="929.6" cy="2113.1" rx="19.3" ry="20.7" fill="#fff" stroke="#f00000" stroke-width="6.6"/>
<ellipse cx="951.4" cy="2113.1" rx="19.3" ry="20.7" fill="#fff" stroke="#f00000" stroke-width="6.6"/>
<ellipse cx="975.2" cy="2107.1" rx="19.3" ry="20.7" fill="#fff" stroke="#f00000" stroke-width="6.6"/>
<ellipse cx="998.3" cy="2104" rx="19.3" ry="20.7" fill="#fff" stroke="#f00000" stroke-width="6.6"/>
<ellipse cx="1020.9" cy="2102.4" rx="19.3" ry="20.7" fill="#fff" stroke="#f00000" stroke-width="6.6"/>
<ellipse cx="1043.9" cy="2097.2" rx="19.3" ry="20.7" fill="#fff" stroke="#f00000" stroke-width="6.6"/>
<ellipse cx="1066.5" cy="2095.2" rx="19.3" ry="20.7" fill="#fff" stroke="#f00000" stroke-width="6.6"/>
<ellipse cx="1089.5" cy="2094" rx="19.3" ry="20.7" fill="#fff" stroke="#f00000" stroke-width="6.6"/>
<ellipse cx="1112.1" cy="2092.1" rx="19.3" ry="20.7" fill="#fff" stroke="#f00000" stroke-width="6.6"/>
<ellipse cx="1137.1" cy="2102.4" rx="19.3" ry="20.7" fill="#fff" stroke="#f00000" stroke-width="6.6"/>
<ellipse cx="438.9" cy="2218.3" rx="19.3" ry="20.7" fill="#fff" stroke="#00ff00" stroke-width="6.6"/>
<ellipse cx="456.7" cy="2238.1" rx="19.3" ry="20.7" fill="#fff" stroke="#00ff00" stroke-width="6.6"/>
<ellipse cx="473.4" cy="2277" rx="19.3" ry="20.7" fill="#fff" stroke="#00ff00" stroke-width="6.6"/>
<ellipse cx="489.7" cy="2273.8" rx="19.3" ry="20.7" fill="#fff" stroke="#00ff00" stroke-width="6.6"/>
<ellipse cx="506.3" cy="2269.8" rx="19.3" ry="20.7" fill="#fff" stroke="#00ff00" stroke-width="6.6"/>
<ellipse cx="522.2" cy="2254" rx="19.3" ry="20.7" fill="#fff" stroke="#00ff00" stroke-width="6.6"/>
<ellipse cx="538.1" cy="2242.1" rx="19.3" ry="20.7" fill="#fff" stroke="#00ff00" stroke-width="6.6"/>
<ellipse cx="554" cy="2232.1" rx="19.3" ry="20.7" fill="#fff" stroke="#00ff00" stroke-width="6.6"/>
<ellipse cx="569.8" cy="2224.2" rx="19.3" ry="20.7" fill="#fff" stroke="#00ff00" stroke-width="6.6"/>
<ellipse cx="585.7" cy="2214.3" rx="19.3" ry="20.7" fill="#fff" stroke="#00ff00" stroke-width="6.6"/>
<ellipse cx="601.6" cy="2204.4" rx="19.3" ry="20.7" fill="#fff" stroke="#00ff00" stroke-width="6.6"/>
<ellipse cx="617.5" cy="2194.4" rx="19.3" ry="20.7" fill="#fff" stroke="#00ff00" stroke-width="6.6"/>
<ellipse cx="633.3" cy="2184.5" rx="19.3" ry="20.7" fill="#fff" stroke="#00ff00" stroke-width="6.6"/>
<ellipse cx="649.2" cy="2176.6" rx="19.3" ry="20.7" fill="#fff" stroke="#00ff00" stroke-width="6.6"/>
<ellipse cx="665.1" cy="2168.7" rx="19.3" ry="20.7" fill="#fff" stroke="#00ff00" stroke-width="6.6"/>
<ellipse cx="681" cy="2162.7" rx="19.3" ry="20.7" fill="#fff" stroke="#00ff00" stroke-width="6.6"/>
<ellipse cx="696.8" cy="2156.7" rx="19.3" ry="20.7" fill="#fff" stroke="#00ff00" stroke-width="6.6"/>
<ellipse cx="712.7" cy="2152.8" rx="19.3" ry="20.7" fill="#fff" stroke="#00ff00" stroke-width="6.6"/>
<ellipse cx="728.6" cy="2148.8" rx="19.3" ry="20.7" fill="#fff" stroke="#00ff00" stroke-width="6.6"/>
<ellipse cx="744.4" cy="2142.9" rx="19.3" ry="20.7" fill="#fff" stroke="#00ff00" stroke-width="6.6"/>
<ellipse cx="766.3" cy="2138.9" rx="19.3" ry="20.7" fill="#fff" stroke="#00ff00" stroke-width="6.6"/>
<rect x="318.2" y="1464.2" width="1227.1" height="1253" fill="none" stroke="#000" stroke-width="3"/>
<line x1="303.2" y1="2717.2" x2="318.2" y2="2717.2" stroke="#000" stroke-width="3"/>
<text transform="translate(272,2741) scale(1,1.05)" font-size="67.7" font-weight="bold" text-anchor="end" fill="#000">0.0</text>
<line x1="303.2" y1="2489.4" x2="318.2" y2="2489.4" stroke="#000" stroke-width="3"/>
<text transform="translate(272,2513.2) scale(1,1.05)" font-size="67.7" font-weight="bold" text-anchor="end" fill="#000">0.2</text>
<line x1="303.2" y1="2261.6" x2="318.2" y2="2261.6" stroke="#000" stroke-width="3"/>
<text transform="translate(272,2285.4) scale(1,1.05)" font-size="67.7" font-weight="bold" text-anchor="end" fill="#000">0.4</text>
<line x1="303.2" y1="2033.9" x2="318.2" y2="2033.9" stroke="#000" stroke-width="3"/>
<text transform="translate(272,2057.7) scale(1,1.05)" font-size="67.7" font-weight="bold" text-anchor="end" fill="#000">0.6</text>
<line x1="303.2" y1="1806.1" x2="318.2" y2="1806.1" stroke="#000" stroke-width="3"/>
<text transform="translate(272,1829.9) scale(1,1.05)" font-size="67.7" font-weight="bold" text-anchor="end" fill="#000">0.8</text>
<line x1="303.2" y1="1578.3" x2="318.2" y2="1578.3" stroke="#000" stroke-width="3"/>
<text transform="translate(272,1602.1) scale(1,1.05)" font-size="67.7" font-weight="bold" text-anchor="end" fill="#000">1.0</text>
<line x1="318.2" y1="2717.2" x2="318.2" y2="2733.2" stroke="#000" stroke-width="3"/>
<text transform="translate(318.2,2830) scale(1,1.05)" font-size="67.7" font-weight="bold" text-anchor="middle" fill="#000">0</text>
<line x1="522.7" y1="2717.2" x2="522.7" y2="2733.2" stroke="#000" stroke-width="3"/>
<text transform="translate(522.7,2830) scale(1,1.05)" font-size="67.7" font-weight="bold" text-anchor="middle" fill="#000">5</text>
<line x1="727.2" y1="2717.2" x2="727.2" y2="2733.2" stroke="#000" stroke-width="3"/>
<text transform="translate(727.2,2830) scale(1,1.05)" font-size="67.7" font-weight="bold" text-anchor="middle" fill="#000">10</text>
<line x1="931.8" y1="2717.2" x2="931.8" y2="2733.2" stroke="#000" stroke-width="3"/>
<text transform="translate(931.8,2830) scale(1,1.05)" font-size="67.7" font-weight="bold" text-anchor="middle" fill="#000">15</text>
<line x1="1136.3" y1="2717.2" x2="1136.3" y2="2733.2" stroke="#000" stroke-width="3"/>
<text transform="translate(1136.3,2830) scale(1,1.05)" font-size="67.7" font-weight="bold" text-anchor="middle" fill="#000">20</text>
<line x1="1340.8" y1="2717.2" x2="1340.8" y2="2733.2" stroke="#000" stroke-width="3"/>
<text transform="translate(1340.8,2830) scale(1,1.05)" font-size="67.7" font-weight="bold" text-anchor="middle" fill="#000">25</text>
<line x1="1545.3" y1="2717.2" x2="1545.3" y2="2733.2" stroke="#000" stroke-width="3"/>
<text transform="translate(1545.3,2830) scale(1,1.05)" font-size="67.7" font-weight="bold" text-anchor="middle" fill="#000">30</text>
<line x1="1545.3" y1="2685.5" x2="1555" y2="2685.5" stroke="#000" stroke-width="2.5"/>
<line x1="1545.3" y1="2617.7" x2="1555" y2="2617.7" stroke="#000" stroke-width="2.5"/>
<line x1="1545.3" y1="2549.8" x2="1555" y2="2549.8" stroke="#000" stroke-width="2.5"/>
<line x1="1545.3" y1="2481.9" x2="1562.3" y2="2481.9" stroke="#000" stroke-width="3"/>
<line x1="1545.3" y1="2414.1" x2="1555" y2="2414.1" stroke="#000" stroke-width="2.5"/>
<line x1="1545.3" y1="2346.2" x2="1555" y2="2346.2" stroke="#000" stroke-width="2.5"/>
<line x1="1545.3" y1="2278.4" x2="1555" y2="2278.4" stroke="#000" stroke-width="2.5"/>
<line x1="1545.3" y1="2210.6" x2="1555" y2="2210.6" stroke="#000" stroke-width="2.5"/>
<line x1="1545.3" y1="2142.7" x2="1562.3" y2="2142.7" stroke="#000" stroke-width="3"/>
<line x1="1545.3" y1="2074.8" x2="1555" y2="2074.8" stroke="#000" stroke-width="2.5"/>
<line x1="1545.3" y1="2007" x2="1555" y2="2007" stroke="#000" stroke-width="2.5"/>
<line x1="1545.3" y1="1939.2" x2="1555" y2="1939.2" stroke="#000" stroke-width="2.5"/>
<line x1="1545.3" y1="1871.3" x2="1555" y2="1871.3" stroke="#000" stroke-width="2.5"/>
<line x1="1545.3" y1="1803.5" x2="1562.3" y2="1803.5" stroke="#000" stroke-width="3"/>
<line x1="1545.3" y1="1735.6" x2="1555" y2="1735.6" stroke="#000" stroke-width="2.5"/>
<line x1="1545.3" y1="1667.8" x2="1555" y2="1667.8" stroke="#000" stroke-width="2.5"/>
<line x1="1545.3" y1="1599.9" x2="1555" y2="1599.9" stroke="#000" stroke-width="2.5"/>
<line x1="1545.3" y1="1532" x2="1555" y2="1532" stroke="#000" stroke-width="2.5"/>
<line x1="1545.3" y1="1464.2" x2="1562.3" y2="1464.2" stroke="#000" stroke-width="3"/>
<text transform="translate(1592,2505.9) scale(1,1.05)" font-size="67.7" font-weight="bold" text-anchor="start" fill="#000">50</text>
<text transform="translate(1592,2166.7) scale(1,1.05)" font-size="67.7" font-weight="bold" text-anchor="start" fill="#000">100</text>
<text transform="translate(1592,1827.5) scale(1,1.05)" font-size="67.7" font-weight="bold" text-anchor="start" fill="#000">150</text>
<text transform="translate(1592,1488.2) scale(1,1.05)" font-size="67.7" font-weight="bold" text-anchor="start" fill="#000">200</text>
<text transform="translate(166.6,2090) scale(1,1.05) rotate(-90)" font-size="73.8" font-weight="bold" text-anchor="middle" fill="#000">dRI Response</text>
<text transform="translate(1751.6,2094.2) scale(1,1.05) rotate(-90)" font-size="74.5" font-weight="bold" text-anchor="middle"><tspan font-style="italic">R</tspan><tspan font-size="72" dy="21.5">g</tspan><tspan dy="-21.5"> (nm)</tspan></text>
<text transform="translate(936,2885.6) scale(1,1.05)" font-size="73.3" font-weight="bold" text-anchor="middle" fill="#000">Retention time (min)</text>
<text transform="translate(15,2909) scale(1,1.04)" font-size="81"><tspan>(</tspan><tspan font-weight="bold">b</tspan><tspan>)</tspan></text>
<line x1="1070" y1="1529.5" x2="1199" y2="1529.5" stroke="#000000" stroke-width="8.5" stroke-linecap="round"/>
<line x1="1070" y1="1600" x2="1199" y2="1600" stroke="#f00000" stroke-width="8.5" stroke-linecap="round"/>
<line x1="1070" y1="1668.8" x2="1199" y2="1668.8" stroke="#00ff00" stroke-width="7.5" stroke-linecap="round"/>
<text transform="translate(1232.5,1548.4) scale(1,1.05)" font-size="59" font-weight="normal" text-anchor="start" fill="#000">GEP</text>
<text transform="translate(1232.5,1619.6) scale(1,1.05)" font-size="59" font-weight="normal" text-anchor="start" fill="#000">SGEP</text>
<text transform="translate(1232.5,1688.4) scale(1,1.05)" font-size="59" font-weight="normal" text-anchor="start" fill="#000">AcGEP</text>
<ellipse cx="1134.6" cy="1748.6" rx="18.8" ry="20.1" fill="#fff" stroke="#000000" stroke-width="6.3"/>
<text transform="translate(1232.6,1760.6) scale(1,1.05)" font-size="58.4"><tspan font-style="italic">R</tspan><tspan font-size="38" dy="19">g</tspan><tspan dy="-19"> (GEP)</tspan></text>
<ellipse cx="1134.6" cy="1836.3" rx="18.8" ry="20.1" fill="#fff" stroke="#f00000" stroke-width="6.3"/>
<text transform="translate(1232.6,1848.3) scale(1,1.05)" font-size="58.4"><tspan font-style="italic">R</tspan><tspan font-size="38" dy="19">g</tspan><tspan dy="-19"> (SGEP)</tspan></text>
<ellipse cx="1134.6" cy="1925" rx="18.8" ry="20.1" fill="#fff" stroke="#00ff00" stroke-width="6.3"/>
<text transform="translate(1232.6,1937) scale(1,1.05)" font-size="58.4"><tspan font-style="italic">R</tspan><tspan font-size="38" dy="19">g</tspan><tspan dy="-19"> (AcGEP)</tspan></text>
</svg>
</body></html>
